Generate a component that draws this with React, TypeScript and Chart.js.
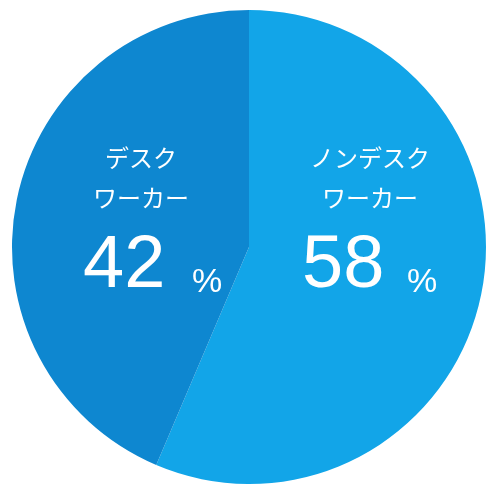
import React, { useEffect, useRef } from "react";
import { Chart, registerables } from "chart.js";

Chart.register(...registerables);

const categories = ["ノンデスクワーカー", "デスクワーカー"];
// slice sizes as drawn in the picture (boundary measured), labels show the stated shares
const values = [56.4, 43.6];
const colors = ["#12A5E8", "#0E87D0"];
const labelLines = [["ノンデスク", "ワーカー"], ["デスク", "ワーカー"]];
const percentTexts = ["58", "42"];

const labelPlugin = {
  id: "sliceLabels",
  afterDraw(chart: any) {
    const ctx = chart.ctx;
    const meta = chart.getDatasetMeta(0);
    const arc = meta.data[0];
    const cx = arc.x;
    const cy = arc.y;
    const layouts = [
      { tx: cx + 121, nx: cx + 53, px: cx + 158 },
      { tx: cx - 108, nx: cx - 166, px: cx - 57 },
    ];
    ctx.save();
    ctx.fillStyle = "#ffffff";
    layouts.forEach((l, i) => {
      ctx.font = "24px 'Noto Sans CJK JP', sans-serif";
      ctx.textAlign = "center";
      ctx.textBaseline = "middle";
      ctx.fillText(labelLines[i][0], l.tx, cy - 89);
      ctx.fillText(labelLines[i][1], l.tx, cy - 49);
      ctx.textAlign = "left";
      ctx.textBaseline = "alphabetic";
      ctx.font = "74px 'Liberation Sans', Arial, sans-serif";
      ctx.fillText(percentTexts[i], l.nx, cy + 40);
      ctx.font = "34px 'Liberation Sans', Arial, sans-serif";
      ctx.fillText("%", l.px, cy + 45);
    });
    ctx.restore();
  },
};

export default function App() {
  const ref = useRef<HTMLCanvasElement>(null);
  useEffect(() => {
    if (!ref.current) return;
    const chart = new Chart(ref.current, {
      type: "pie",
      data: {
        labels: categories,
        datasets: [
          {
            data: values,
            backgroundColor: colors,
            borderWidth: 0,
          },
        ],
      },
      options: {
        animation: false,
        responsive: false,
        layout: { padding: { left: 12, right: 1, top: 10, bottom: 2 } },
        plugins: {
          legend: { display: false },
          tooltip: { enabled: false },
        },
      },
      plugins: [labelPlugin],
    });
    return () => chart.destroy();
  }, []);
  return (
    <div style={{ position: "fixed", left: 0, top: 0, width: 487, height: 486, background: "#fff" }}>
      <canvas ref={ref} width={487} height={486} style={{ width: 487, height: 486 }} />
    </div>
  );
}
